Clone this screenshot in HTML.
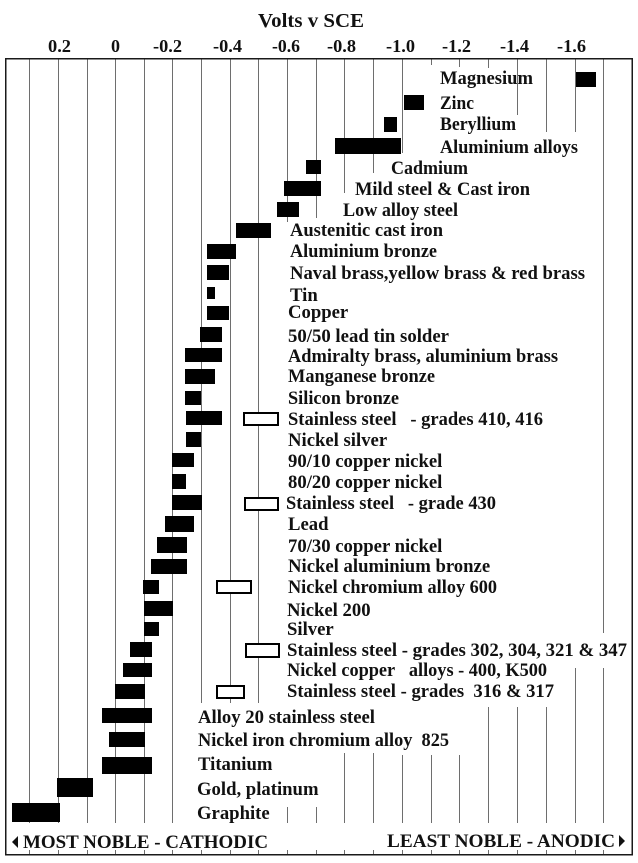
<!DOCTYPE html>
<html><head><meta charset="utf-8"><style>
html,body{margin:0;padding:0;background:#fff;}
svg{display:block;}
text{font-family:"Liberation Serif","Times New Roman",serif;font-weight:bold;fill:#111;}
</style></head><body>
<svg width="638" height="863" viewBox="0 0 638 863" xmlns="http://www.w3.org/2000/svg">
<rect x="0" y="0" width="638" height="863" fill="#fff"/>
<text x="258" y="27" font-size="20" textLength="106" lengthAdjust="spacingAndGlyphs">Volts v SCE</text>
<g font-size="18">
<text x="48" y="52" textLength="23" lengthAdjust="spacingAndGlyphs">0.2</text>
<text x="111" y="52" textLength="9" lengthAdjust="spacingAndGlyphs">0</text>
<text x="153" y="52" textLength="29" lengthAdjust="spacingAndGlyphs">-0.2</text>
<text x="213" y="52" textLength="29" lengthAdjust="spacingAndGlyphs">-0.4</text>
<text x="272" y="52" textLength="28" lengthAdjust="spacingAndGlyphs">-0.6</text>
<text x="327" y="52" textLength="29" lengthAdjust="spacingAndGlyphs">-0.8</text>
<text x="386" y="52" textLength="29" lengthAdjust="spacingAndGlyphs">-1.0</text>
<text x="442" y="52" textLength="29" lengthAdjust="spacingAndGlyphs">-1.2</text>
<text x="500" y="52" textLength="29" lengthAdjust="spacingAndGlyphs">-1.4</text>
<text x="557" y="52" textLength="29" lengthAdjust="spacingAndGlyphs">-1.6</text>
</g>
<g stroke="#6e6e6e" stroke-width="1">
<line x1="29.5" y1="58" x2="29.5" y2="823"/>
<line x1="58.5" y1="58" x2="58.5" y2="823"/>
<line x1="87.5" y1="58" x2="87.5" y2="823"/>
<line x1="115.5" y1="58" x2="115.5" y2="823"/>
<line x1="144.5" y1="58" x2="144.5" y2="823"/>
<line x1="172.5" y1="58" x2="172.5" y2="823"/>
<line x1="201.5" y1="58" x2="201.5" y2="703"/>
<line x1="230.5" y1="58" x2="230.5" y2="703"/>
<line x1="258.5" y1="58" x2="258.5" y2="703"/>
<line x1="287.5" y1="58" x2="287.5" y2="222"/>
<line x1="287.5" y1="807" x2="287.5" y2="823"/>
<line x1="316.5" y1="58" x2="316.5" y2="218"/>
<line x1="316.5" y1="807" x2="316.5" y2="823"/>
<line x1="344.5" y1="58" x2="344.5" y2="193"/>
<line x1="344.5" y1="753" x2="344.5" y2="823"/>
<line x1="373.5" y1="58" x2="373.5" y2="173"/>
<line x1="373.5" y1="753" x2="373.5" y2="823"/>
<line x1="402.5" y1="58" x2="402.5" y2="153"/>
<line x1="402.5" y1="755" x2="402.5" y2="823"/>
<line x1="431.5" y1="58" x2="431.5" y2="65"/>
<line x1="431.5" y1="755" x2="431.5" y2="823"/>
<line x1="459.5" y1="58" x2="459.5" y2="67"/>
<line x1="459.5" y1="755" x2="459.5" y2="823"/>
<line x1="488.5" y1="58" x2="488.5" y2="68"/>
<line x1="488.5" y1="707" x2="488.5" y2="823"/>
<line x1="517.5" y1="58" x2="517.5" y2="115"/>
<line x1="517.5" y1="707" x2="517.5" y2="823"/>
<line x1="546.5" y1="58" x2="546.5" y2="132"/>
<line x1="546.5" y1="707" x2="546.5" y2="823"/>
<line x1="575.5" y1="58" x2="575.5" y2="132"/>
<line x1="575.5" y1="668" x2="575.5" y2="823"/>
<line x1="603.5" y1="58" x2="603.5" y2="633"/>
<line x1="603.5" y1="668" x2="603.5" y2="823"/>
</g>
<g stroke="#6e6e6e" stroke-width="1">
<line x1="29.5" y1="850" x2="29.5" y2="855"/>
<line x1="58.5" y1="850" x2="58.5" y2="855"/>
<line x1="87.5" y1="850" x2="87.5" y2="855"/>
<line x1="115.5" y1="850" x2="115.5" y2="855"/>
<line x1="144.5" y1="850" x2="144.5" y2="855"/>
<line x1="172.5" y1="850" x2="172.5" y2="855"/>
<line x1="201.5" y1="850" x2="201.5" y2="855"/>
<line x1="230.5" y1="850" x2="230.5" y2="855"/>
<line x1="258.5" y1="850" x2="258.5" y2="855"/>
<line x1="287.5" y1="850" x2="287.5" y2="855"/>
<line x1="316.5" y1="850" x2="316.5" y2="855"/>
<line x1="344.5" y1="850" x2="344.5" y2="855"/>
<line x1="373.5" y1="850" x2="373.5" y2="855"/>
<line x1="402.5" y1="850" x2="402.5" y2="855"/>
<line x1="431.5" y1="850" x2="431.5" y2="855"/>
<line x1="459.5" y1="850" x2="459.5" y2="855"/>
<line x1="488.5" y1="850" x2="488.5" y2="855"/>
<line x1="517.5" y1="850" x2="517.5" y2="855"/>
<line x1="546.5" y1="850" x2="546.5" y2="855"/>
<line x1="575.5" y1="850" x2="575.5" y2="855"/>
<line x1="603.5" y1="850" x2="603.5" y2="855"/>
</g>
<rect x="5.75" y="58.75" width="626.5" height="796" fill="none" stroke="#1a1a1a" stroke-width="1.5"/>
<g fill="#000">
<rect x="576" y="72" width="20" height="15"/>
<rect x="404" y="95" width="20" height="15"/>
<rect x="384" y="117" width="13" height="15"/>
<rect x="335" y="138" width="66" height="16"/>
<rect x="306" y="160" width="15" height="14"/>
<rect x="284" y="181" width="37" height="15"/>
<rect x="277" y="202" width="22" height="15"/>
<rect x="236" y="223" width="35" height="15"/>
<rect x="207" y="244" width="29" height="15"/>
<rect x="207" y="265" width="22" height="15"/>
<rect x="207" y="287" width="8" height="12"/>
<rect x="207" y="306" width="22" height="14"/>
<rect x="200" y="327" width="22" height="15"/>
<rect x="185" y="348" width="37" height="14"/>
<rect x="185" y="369" width="30" height="15"/>
<rect x="185" y="391" width="16" height="14"/>
<rect x="186" y="411" width="36" height="14"/>
<rect x="186" y="432" width="15" height="15"/>
<rect x="172" y="453" width="22" height="14"/>
<rect x="172" y="474" width="14" height="15"/>
<rect x="172" y="495" width="30" height="15"/>
<rect x="165" y="516" width="29" height="16"/>
<rect x="157" y="537" width="30" height="16"/>
<rect x="151" y="559" width="36" height="15"/>
<rect x="143" y="580" width="16" height="14"/>
<rect x="144" y="601" width="29" height="15"/>
<rect x="144" y="622" width="15" height="14"/>
<rect x="130" y="642" width="22" height="15"/>
<rect x="123" y="663" width="29" height="14"/>
<rect x="115" y="684" width="30" height="15"/>
<rect x="102" y="708" width="50" height="15"/>
<rect x="109" y="732" width="36" height="15"/>
<rect x="102" y="757" width="50" height="17"/>
<rect x="57" y="778" width="36" height="19"/>
<rect x="12" y="803" width="48" height="19"/>
</g>
<g fill="#fff" stroke="#000" stroke-width="2">
<rect x="244" y="413" width="34" height="12"/>
<rect x="245" y="498" width="33" height="12"/>
<rect x="217" y="581" width="34" height="12"/>
<rect x="246" y="644" width="33" height="13"/>
<rect x="217" y="686" width="27" height="12"/>
</g>
<g font-size="18.7">
<text x="440" y="84" textLength="93" lengthAdjust="spacingAndGlyphs">Magnesium</text>
<text x="440" y="109" textLength="34" lengthAdjust="spacingAndGlyphs">Zinc</text>
<text x="440" y="130" textLength="76" lengthAdjust="spacingAndGlyphs">Beryllium</text>
<text x="440" y="153" textLength="138" lengthAdjust="spacingAndGlyphs">Aluminium alloys</text>
<text x="391" y="174" textLength="77" lengthAdjust="spacingAndGlyphs">Cadmium</text>
<text x="355" y="195" textLength="175" lengthAdjust="spacingAndGlyphs">Mild steel &amp; Cast iron</text>
<text x="343" y="216" textLength="115" lengthAdjust="spacingAndGlyphs">Low alloy steel</text>
<text x="290" y="236" textLength="153" lengthAdjust="spacingAndGlyphs">Austenitic cast iron</text>
<text x="290" y="257" textLength="147" lengthAdjust="spacingAndGlyphs">Aluminium bronze</text>
<text x="290" y="279" textLength="295" lengthAdjust="spacingAndGlyphs">Naval brass,yellow brass &amp; red brass</text>
<text x="290" y="301">Tin</text>
<text x="288" y="318">Copper</text>
<text x="288" y="342" textLength="161" lengthAdjust="spacingAndGlyphs">50/50 lead tin solder</text>
<text x="288" y="362" textLength="270" lengthAdjust="spacingAndGlyphs">Admiralty brass, aluminium brass</text>
<text x="288" y="382" textLength="147" lengthAdjust="spacingAndGlyphs">Manganese bronze</text>
<text x="288" y="404" textLength="111" lengthAdjust="spacingAndGlyphs">Silicon bronze</text>
<text x="288" y="425" textLength="255" lengthAdjust="spacingAndGlyphs">Stainless steel&#160;&#160; - grades 410, 416</text>
<text x="288" y="446">Nickel silver</text>
<text x="288" y="467">90/10 copper nickel</text>
<text x="288" y="488">80/20 copper nickel</text>
<text x="286" y="509" textLength="210" lengthAdjust="spacingAndGlyphs">Stainless steel&#160;&#160; - grade 430</text>
<text x="288" y="530">Lead</text>
<text x="288" y="552">70/30 copper nickel</text>
<text x="288" y="572">Nickel aluminium bronze</text>
<text x="288" y="593" textLength="209" lengthAdjust="spacingAndGlyphs">Nickel chromium alloy 600</text>
<text x="287" y="616">Nickel 200</text>
<text x="287" y="635">Silver</text>
<text x="287" y="656" textLength="340" lengthAdjust="spacingAndGlyphs">Stainless steel - grades 302, 304, 321 &amp; 347</text>
<text x="287" y="676" textLength="260" lengthAdjust="spacingAndGlyphs">Nickel copper&#160;&#160; alloys - 400, K500</text>
<text x="287" y="697" textLength="267" lengthAdjust="spacingAndGlyphs">Stainless steel - grades&#160; 316 &amp; 317</text>
<text x="198" y="723">Alloy 20 stainless steel</text>
<text x="198" y="746" textLength="251" lengthAdjust="spacingAndGlyphs">Nickel iron chromium alloy&#160; 825</text>
<text x="198" y="770">Titanium</text>
<text x="197" y="795">Gold, platinum</text>
<text x="197" y="819">Graphite</text>
</g>
<polygon points="18,836 18,848 12,842" fill="#111"/>
<text x="23" y="848" font-size="18.7" textLength="245" lengthAdjust="spacingAndGlyphs">MOST NOBLE - CATHODIC</text>
<text x="387" y="847" font-size="18.7" textLength="228" lengthAdjust="spacingAndGlyphs">LEAST NOBLE - ANODIC</text>
<polygon points="619,835 619,847 625,841" fill="#111"/>
</svg>
</body></html>
